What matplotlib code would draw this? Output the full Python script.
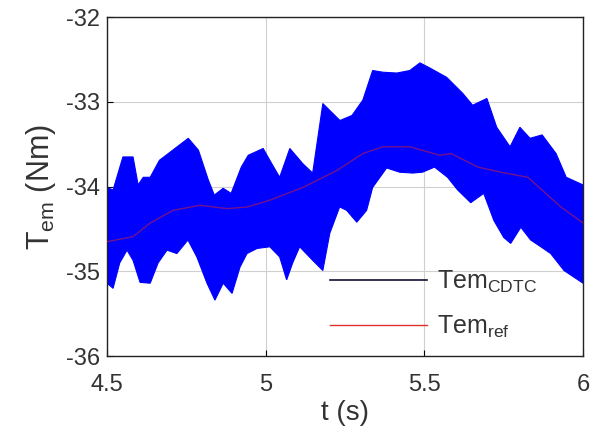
import matplotlib
matplotlib.use("Agg")
import matplotlib.pyplot as plt
from matplotlib.lines import Line2D

plt.rcParams["font.family"] = ["Liberation Sans", "DejaVu Sans"]
plt.rcParams["mathtext.fontset"] = "custom"
plt.rcParams["mathtext.rm"] = "Liberation Sans"
plt.rcParams["axes.unicode_minus"] = False

# upper / lower envelope of the CDTC torque ripple, and the reference torque
t_up = [4.500, 4.519, 4.550, 4.582, 4.598, 4.614, 4.636, 4.665, 4.693, 4.756, 4.788,
        4.819, 4.838, 4.866, 4.891, 4.923, 4.945, 4.992, 5.013, 5.044, 5.076, 5.117,
        5.148, 5.180, 5.234, 5.272, 5.306, 5.337, 5.369, 5.413, 5.454, 5.486, 5.517,
        5.570, 5.621, 5.652, 5.697, 5.728, 5.770, 5.801, 5.833, 5.871, 5.915, 5.947, 6.000]
tem_up = [-34.01, -34.04, -33.65, -33.65, -33.98, -33.89, -33.89, -33.69, -33.61,
          -33.43, -33.57, -33.92, -34.10, -34.02, -34.08, -33.77, -33.63, -33.55,
          -33.69, -33.89, -33.55, -33.73, -33.84, -33.02, -33.22, -33.16, -32.98,
          -32.63, -32.65, -32.66, -32.63, -32.54, -32.60, -32.71, -32.90, -33.04,
          -32.96, -33.30, -33.53, -33.30, -33.43, -33.39, -33.61, -33.89, -33.98]

t_lo = [4.500, 4.519, 4.540, 4.563, 4.582, 4.604, 4.636, 4.661, 4.689, 4.720, 4.755,
        4.783, 4.815, 4.840, 4.866, 4.894, 4.919, 4.941, 4.973, 5.013, 5.044, 5.066,
        5.085, 5.107, 5.148, 5.180, 5.202, 5.233, 5.255, 5.287, 5.318, 5.337, 5.381,
        5.422, 5.463, 5.494, 5.532, 5.573, 5.605, 5.646, 5.687, 5.719, 5.750, 5.772,
        5.804, 5.835, 5.867, 5.898, 5.940, 5.984, 6.000]
tem_lo = [-35.14, -35.20, -34.90, -34.75, -34.87, -35.13, -35.14, -34.90, -34.75,
          -34.79, -34.63, -34.83, -35.14, -35.34, -35.14, -35.26, -34.95, -34.79,
          -34.73, -34.71, -34.83, -35.10, -34.90, -34.71, -34.87, -34.99, -34.55,
          -34.24, -34.28, -34.42, -34.28, -34.01, -33.78, -33.83, -33.84, -33.83,
          -33.77, -33.89, -34.04, -34.19, -34.08, -34.40, -34.60, -34.67, -34.48,
          -34.63, -34.71, -34.79, -34.99, -35.10, -35.14]

t_ref = [4.500, 4.582, 4.636, 4.708, 4.793, 4.879, 4.942, 5.013, 5.117, 5.224, 5.306,
         5.369, 5.454, 5.549, 5.584, 5.669, 5.741, 5.826, 5.930, 6.000]
tem_ref = [-34.65, -34.59, -34.43, -34.28, -34.22, -34.26, -34.24, -34.16, -34.01,
           -33.81, -33.61, -33.53, -33.53, -33.63, -33.61, -33.77, -33.83, -33.89,
           -34.24, -34.43]

fig = plt.figure(figsize=(5.98, 4.28), dpi=100)
ax = fig.add_axes([0.179, 0.168, 0.796, 0.792])

# ripple band: upper envelope out, lower envelope back
ax.fill(t_up + t_lo[::-1], tem_up + tem_lo[::-1],
        facecolor="#0000ff", edgecolor="#0000ff", lw=0.8, zorder=2)
ax.plot(t_ref, tem_ref, color="#c02040", lw=1.0, alpha=0.6, zorder=3)

ax.set_xlim(4.5, 6)
ax.set_ylim(-36, -32)
ax.set_xticks([4.5, 5, 5.5, 6])
ax.set_xticklabels(["4.5", "5", "5.5", "6"])
ax.set_yticks([-36, -35, -34, -33, -32])
ax.grid(True, color="#d0d0d0", lw=0.8)
ax.set_axisbelow(True)
ax.tick_params(direction="in", length=4, labelsize=17, labelcolor="#333333",
               color="black")
ax.tick_params(axis="x", pad=13)
ax.tick_params(axis="y", pad=5)
for s in ax.spines.values():
    s.set_color("#222222")
    s.set_linewidth(1.0)

ax.set_xlabel("t (s)", fontsize=20, color="#333333", labelpad=3)
ax.set_ylabel(r"T$_\mathrm{em}$ (Nm)", fontsize=22, color="#333333", labelpad=6)

handles = [Line2D([], [], color="#101030", lw=1.2),
           Line2D([], [], color="#e03030", lw=1.0)]
ax.legend(handles, [r"Tem$_\mathrm{CDTC}$", r"Tem$_\mathrm{ref}$"],
          loc="upper left", bbox_to_anchor=(0.468, 0.258), frameon=False,
          fontsize=18, handlelength=3.9, handletextpad=0.4, labelspacing=0.75,
          borderpad=0, borderaxespad=0, labelcolor="#333333")

fig.savefig("out.png", dpi=100)
